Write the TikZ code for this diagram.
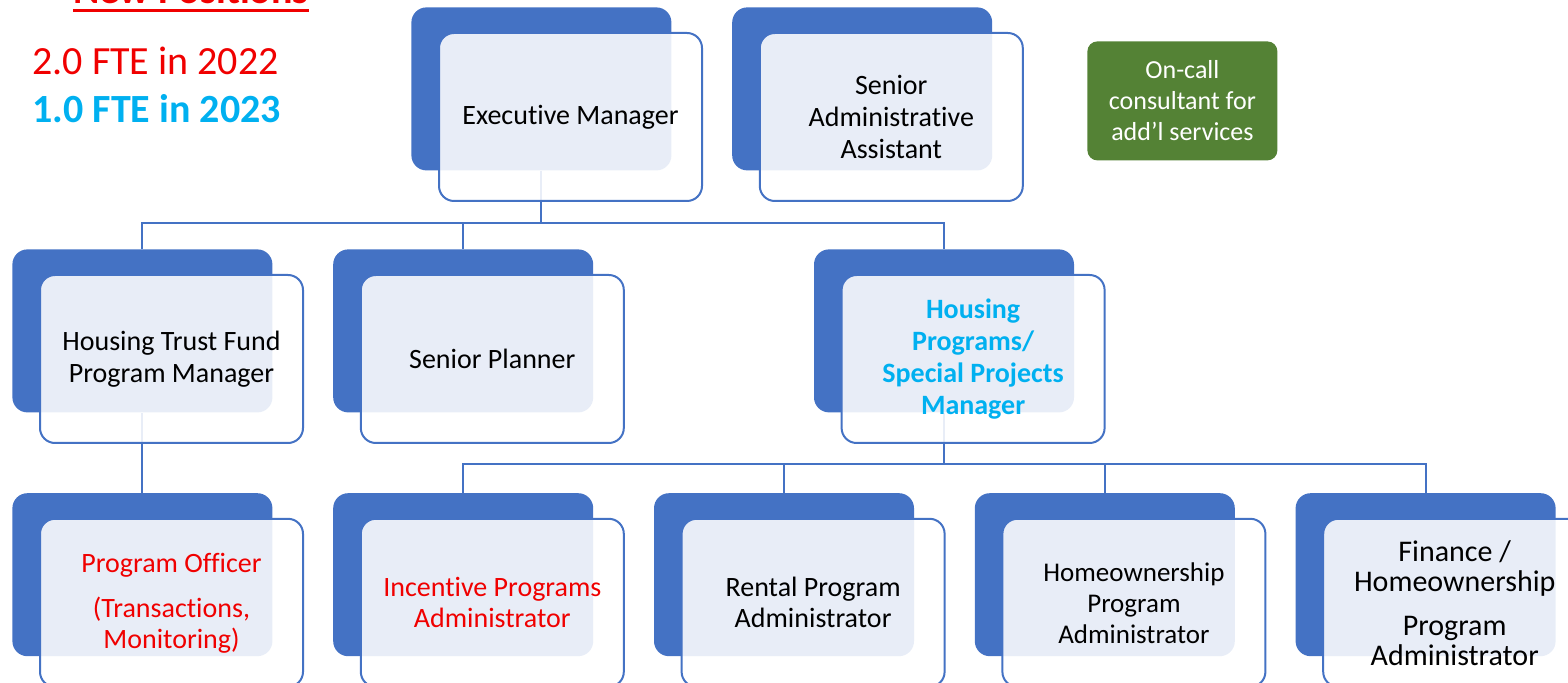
\documentclass[tikz,border=0pt]{standalone}
\usepackage{fontspec}
\setmainfont{Carlito}[Ligatures=NoCommon]
\usepackage{tikz}
\usetikzlibrary{positioning,backgrounds}

\definecolor{orgblue}{HTML}{4472C4}
\definecolor{newred}{HTML}{F00000}
\definecolor{newcyan}{HTML}{00B0F0}
\definecolor{oncallgreen}{HTML}{548235}

\tikzset{
  backbox/.style={rectangle, rounded corners=7.5pt, fill=orgblue,
    minimum width=130pt, minimum height=81.5pt, inner sep=0pt},
  frontbox/.style={rectangle, rounded corners=7.5pt, draw=orgblue, line width=1pt,
    fill=white, fill opacity=0.88, text opacity=1, inner sep=0pt,
    minimum width=131.5pt, minimum height=84pt, align=center,
    font=\fontsize{14}{16}\selectfont},
  link/.style={draw=orgblue, line width=1pt},
}

\begin{document}
\begin{tikzpicture}[x=0.5pt, y=-0.5pt]
      \useasboundingbox (0,0) rectangle (1568,683);
      % Legend
      \node[anchor=base, inner sep=0pt, text=newred, font=\fontsize{20}{24}\selectfont\bfseries]
        (newpos) at (191,4) {New Positions};
      \draw[newred, line width=1.5pt] ([yshift=-3.5pt]newpos.base west) -- ([yshift=-3.5pt]newpos.base east);
      \node[anchor=base west, inner sep=0pt, text=newred, font=\fontsize{20}{24}\selectfont]
        (fte22) at (32,75) {2.0 FTE in 2022};
      \node[anchor=base west, inner sep=0pt, text=newcyan, font=\fontsize{20}{24}\selectfont\bfseries]
        (fte23) at (32,123) {1.0 FTE in 2023};
      % Define nodes
      \node[backbox, anchor=north west] (exec) at (411,7) {};
      \node[frontbox, below right=12.5pt and 13.5pt of exec.north west] (execT) {Executive Manager};
      \node[backbox, right=30pt of exec] (saa) {};
      \node[frontbox, below right=12.5pt and 13.5pt of saa.north west] (saaT) {Senior\\Administrative\\Assistant};
      \node[rectangle, rounded corners=5pt, fill=oncallgreen, text=white, anchor=north west,
        minimum width=95pt, minimum height=59.5pt, align=center,
        font=\fontsize{13}{15.5}\selectfont] (oncall) at (1087,41) {On-call\\consultant for\\add’l services};

      \node[backbox, anchor=north west] (htf) at (12,249) {};
      \node[frontbox, below right=12.5pt and 13.5pt of htf.north west] (htfT) {Housing Trust Fund\\Program Manager};
      \node[backbox, right=30pt of htf] (sp) {};
      \node[frontbox, below right=12.5pt and 13.5pt of sp.north west] (spT) {Senior Planner};
      \node[backbox, right=110pt of sp] (hp) {};
      \node[frontbox, below right=12.5pt and 13.5pt of hp.north west, text=newcyan,
        font=\fontsize{14}{16}\selectfont\bfseries] (hpT) {Housing\\Programs/\\Special Projects\\Manager};

      \node[backbox, below=40pt of htf] (po) {};
      \node[frontbox, below right=12.5pt and 13.5pt of po.north west, text=newred,
        font=\fontsize{14}{15.5}\selectfont] (poT) {Program Officer\\[7pt](Transactions,\\Monitoring)};
      \node[backbox, right=30pt of po] (ipa) {};
      \node[frontbox, below right=12.5pt and 13.5pt of ipa.north west, text=newred,
        font=\fontsize{14}{15.5}\selectfont] (ipaT) {Incentive Programs\\Administrator};
      \node[backbox, right=30pt of ipa] (rpa) {};
      \node[frontbox, below right=12.5pt and 13.5pt of rpa.north west,
        font=\fontsize{14}{15.5}\selectfont] (rpaT) {Rental Program\\Administrator};
      \node[backbox, right=30pt of rpa] (hpa) {};
      \node[frontbox, below right=12.5pt and 13.5pt of hpa.north west,
        font=\fontsize{13.5}{15.5}\selectfont] (hpaT) {Homeownership\\Program\\Administrator};
      \node[backbox, right=30pt of hpa] (fpa) {};
      \node[frontbox, below right=12.5pt and 13.5pt of fpa.north west,
        font=\fontsize{15}{15}\selectfont] (fpaT) {Finance /\\Homeownership\\[7pt]Program\\Administrator};
      % Connect nodes
      \begin{scope}[on background layer]
        \draw[link] (exec.south) -- ++(0,52) -| (htf.north);
        \draw[link] (exec.south) -- ++(0,52) -| (sp.north);
        \draw[link] (exec.south) -- ++(0,52) -| (hp.north);
        \draw[link] (htf.south) -- (po.north);
        \draw[link] (hp.south) -- ++(0,51) -| (ipa.north);
        \draw[link] (hp.south) -- ++(0,51) -| (rpa.north);
        \draw[link] (hp.south) -- ++(0,51) -| (hpa.north);
        \draw[link] (hp.south) -- ++(0,51) -| (fpa.north);
      \end{scope}
\end{tikzpicture}
\end{document}
